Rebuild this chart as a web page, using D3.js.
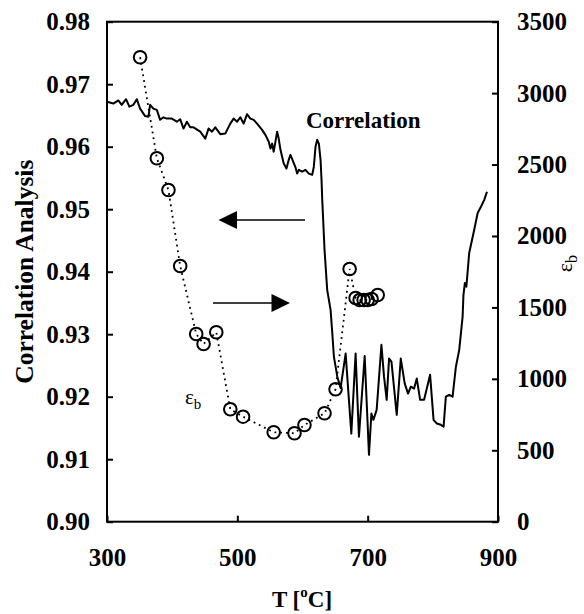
<!DOCTYPE html>
<html><head><meta charset="utf-8">
<script src="https://cdn.jsdelivr.net/npm/d3@7"></script>
<style>
html,body{margin:0;padding:0;background:#fff;}
svg{display:block;}
text{font-family:"Liberation Serif","Times New Roman",serif;fill:#000;}
</style></head>
<body><svg id="c" width="584" height="614"></svg>
<script>
// Correlation analysis (left axis)
const corrT = [300,309.7,317.4,322.6,329.2,334.3,340.5,345.7,350.8,358.5,363.5,366.2,371.2,376.5,381.5,386.6,391.8,399.5,407.2,412.3,417.4,422.6,427.7,432.8,443.1,450.8,455.8,461.1,466.2,473.8,481.5,489.2,494.3,499.5,504.6,509.7,514.9,520,525.1,530.3,538,543.1,548.2,550.8,553.4,555.8,558.5,561.1,563.5,566.2,571.2,575.4,578.9,581.5,585.7,589.2,591.8,594.3,599.5,604.6,609.7,614.9,617.4,620,622.6,625.1,627.7,629.2,630.3,633.8,637.9,643.1,645.7,648.2,653.4,658.5,666.2,674.9,681.5,686.6,695.4,702,705.7,708.8,713.8,721.1,725.1,729.2,732.8,736.5,744.6,750.8,756.9,762,766.2,771.2,775.4,780.5,786.6,795.8,801.1,806.2,812.3,816.5,820,825.1,830.3,835.4,840.5,845.7,847,849.2,851.5,855.8,863.5,868.8,873.8,878.9,883.1];
const corrV = [0.9672,0.9669,0.9674,0.9667,0.9676,0.9664,0.9667,0.9676,0.9661,0.9649,0.9648,0.9667,0.9661,0.9659,0.9643,0.9647,0.9645,0.9645,0.9640,0.9644,0.9629,0.9640,0.9631,0.9631,0.9624,0.9613,0.9629,0.9624,0.9631,0.9620,0.9621,0.9637,0.9645,0.9640,0.9647,0.9637,0.9652,0.9645,0.9643,0.9637,0.9627,0.9619,0.9608,0.9597,0.9605,0.9592,0.9608,0.9624,0.9613,0.9595,0.9573,0.9565,0.9579,0.9587,0.9576,0.9567,0.9557,0.9563,0.9560,0.9563,0.9557,0.9555,0.9568,0.9600,0.9611,0.9605,0.9579,0.9547,0.9515,0.9435,0.9371,0.9339,0.9302,0.9264,0.9232,0.9214,0.9269,0.9141,0.9269,0.9136,0.9265,0.9107,0.9173,0.9163,0.9179,0.9283,0.9232,0.9195,0.9261,0.9256,0.9171,0.9261,0.9221,0.9205,0.9216,0.9213,0.9229,0.9195,0.9195,0.9235,0.9163,0.9157,0.9155,0.9152,0.9200,0.9203,0.9200,0.9248,0.9275,0.9328,0.9363,0.9382,0.9376,0.9430,0.9467,0.9494,0.9504,0.9515,0.9528];
// epsilon_b (right axis)
const epsT = [350.8,376.5,394.3,412.3,436.9,448.2,467.7,489.2,508.8,555.8,587.7,603,633.8,650.7,672.3,681.5,687.7,693.8,700,706,715.4];
const epsV = [3251,2544,2322,1790,1314,1244,1326,787,735,626,619,677,759,927,1769,1566,1552,1552,1552,1559,1587];
const xTicks = [300,500,700,900];
const yLeftTicks = [0.90,0.91,0.92,0.93,0.94,0.95,0.96,0.97,0.98];
const yRightTicks = [0,500,1000,1500,2000,2500,3000,3500];

const L=107,R=498,T=21.7,B=521.7;
const svg = d3.select("#c");
const x = d3.scaleLinear([300,900],[L,R]);
const yL = d3.scaleLinear([0.90,0.98],[B,T]);
const yR = d3.scaleLinear([0,3500],[B,T]);

function styleAxis(g){
  g.select(".domain").remove();
  g.selectAll(".tick line").attr("stroke","#000").attr("stroke-width",2);
  g.selectAll(".tick text").attr("font-size",25).attr("font-weight","bold")
    .attr("font-family","'Liberation Serif','Times New Roman',serif");
}
svg.append("g").attr("transform",`translate(${L},0)`)
  .call(d3.axisLeft(yL).tickValues(yLeftTicks).tickFormat(d3.format(".2f")).tickSizeInner(-6).tickSizeOuter(0).tickPadding(17))
  .call(styleAxis);
svg.append("g").attr("transform",`translate(${R},0)`)
  .call(d3.axisRight(yR).tickValues(yRightTicks).tickFormat(d3.format("d")).tickSizeInner(-6).tickSizeOuter(0).tickPadding(19))
  .call(styleAxis);
svg.append("g").attr("transform",`translate(0,${B})`)
  .call(d3.axisBottom(x).tickValues(xTicks).tickFormat(d3.format("d")).tickSizeInner(-6).tickSizeOuter(0).tickPadding(27))
  .call(styleAxis);

// frame
svg.append("rect").attr("x",L).attr("y",T).attr("width",R-L).attr("height",B-T)
  .attr("fill","none").attr("stroke","#000").attr("stroke-width",2);

// correlation line
const corrData = corrT.map((t,i)=>[t,corrV[i]]);
svg.append("path").datum(corrData)
  .attr("d", d3.line().x(d=>x(d[0])).y(d=>yL(d[1])))
  .attr("fill","none").attr("stroke","#000").attr("stroke-width",2).attr("stroke-linejoin","round");

// epsilon_b dotted line + circles
const epsData = epsT.map((t,i)=>[t,epsV[i]]);
svg.append("path").datum(epsData)
  .attr("d", d3.line().x(d=>x(d[0])).y(d=>yR(d[1])))
  .attr("fill","none").attr("stroke","#000").attr("stroke-width",1.8).attr("stroke-dasharray","1.8,4");
svg.append("g").selectAll("circle").data(epsData).join("circle")
  .attr("cx",d=>x(d[0])).attr("cy",d=>yR(d[1])).attr("r",6.3)
  .attr("fill","none").attr("stroke","#000").attr("stroke-width",2);

// arrows
const arr = svg.append("g");
arr.append("line").attr("x1",236).attr("y1",220).attr("x2",305).attr("y2",220).attr("stroke","#000").attr("stroke-width",1.6);
arr.append("path").attr("d","M218.5,220 L237,211 L237,229 Z").attr("fill","#000");
arr.append("line").attr("x1",213).attr("y1",303).attr("x2",272).attr("y2",303).attr("stroke","#000").attr("stroke-width",1.6);
arr.append("path").attr("d","M290,303 L271.5,294 L271.5,312 Z").attr("fill","#000");

// annotations
svg.append("text").attr("x",306).attr("y",128).attr("font-size",23).attr("font-weight","bold").text("Correlation");
const eb = svg.append("text").attr("x",185).attr("y",404).attr("font-size",21);
eb.append("tspan").text("ε");
eb.append("tspan").attr("font-size",15).attr("dy",5).text("b");

// axis titles
svg.append("text").attr("transform",`translate(33,${(T+B)/2}) rotate(-90)`)
  .attr("text-anchor","middle").attr("font-size",25.5).attr("font-weight","bold").text("Correlation Analysis");
const rt = svg.append("text").attr("transform",`translate(572,${(T+B)/2 - 8}) rotate(-90)`)
  .attr("text-anchor","middle").attr("font-size",22);
rt.append("tspan").text("ε");
rt.append("tspan").attr("font-size",16).attr("dy",5).text("b");
const xt = svg.append("text").attr("x",302).attr("y",607).attr("text-anchor","middle").attr("font-size",23).attr("font-weight","bold");
xt.append("tspan").text("T [");
xt.append("tspan").attr("font-size",15).attr("dy",-10).text("o");
xt.append("tspan").attr("dy",10).text("C]");
</script></body></html>
